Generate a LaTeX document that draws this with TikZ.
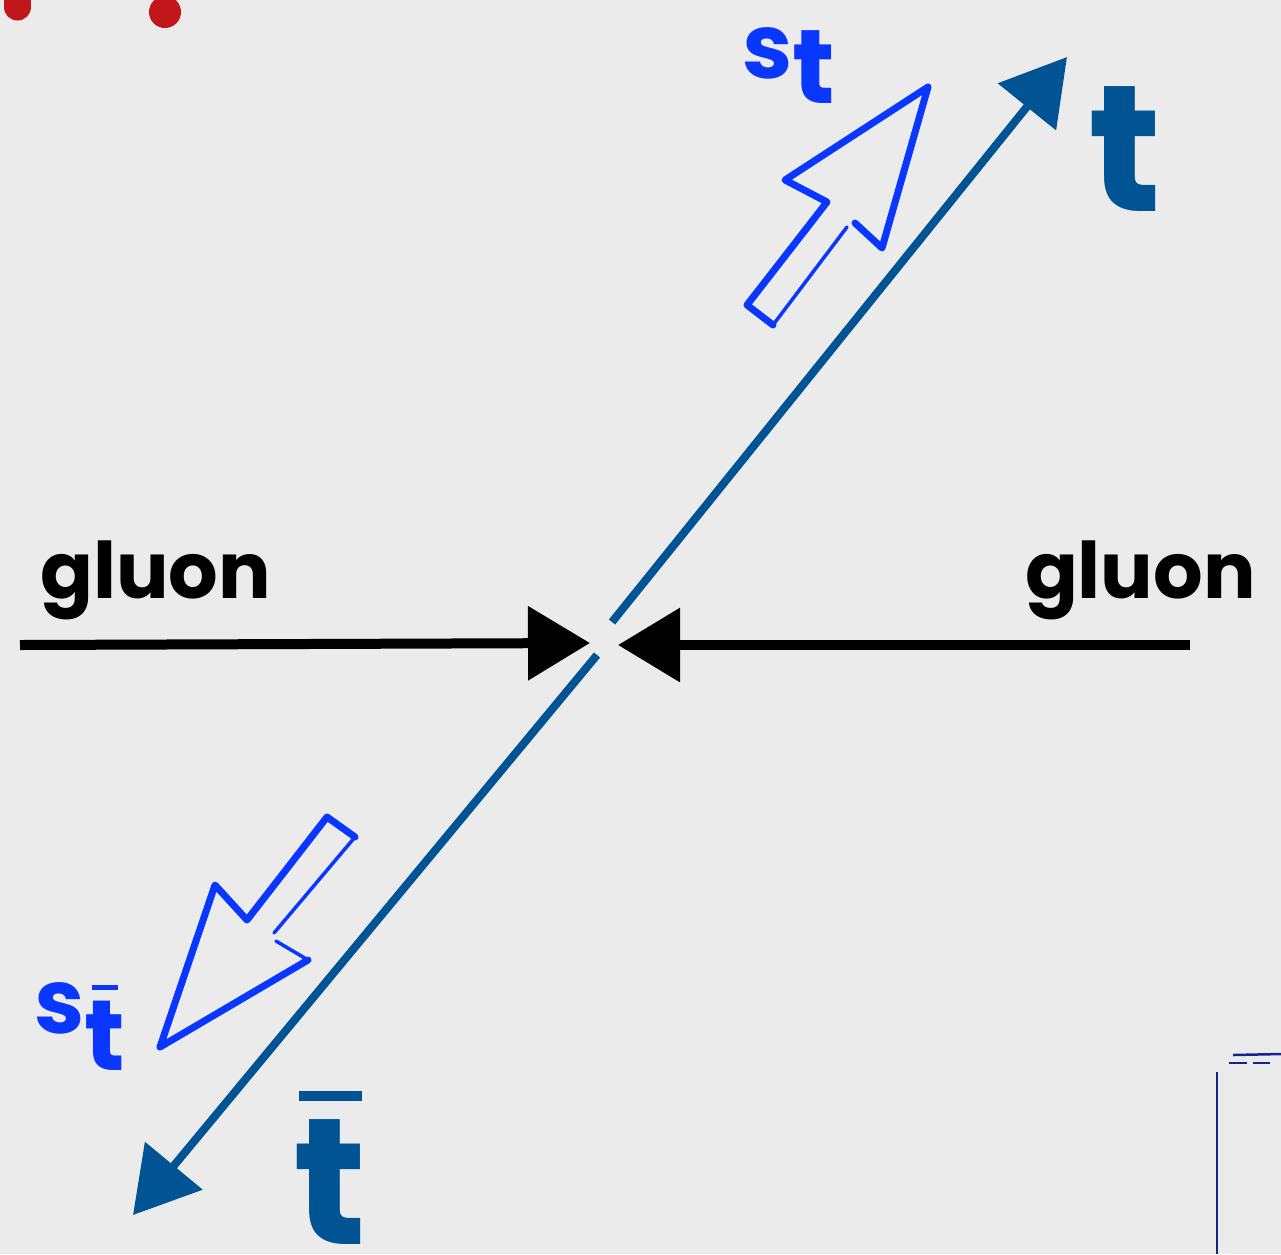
\documentclass[tikz,border=0pt]{standalone}
\usepackage{fontspec}
\setmainfont{Poppins}
\usetikzlibrary{arrows.meta}
\definecolor{paper}{RGB}{235,235,235}
\definecolor{quark}{RGB}{0,84,147}
\definecolor{spin}{RGB}{10,55,255}
\definecolor{dot}{RGB}{193,22,26}
\definecolor{navy}{RGB}{25,35,140}
% letter with a bar on top: text, bar width, bar thickness, gap
\newcommand\barred[4]{\vbox{\offinterlineskip\halign{\hfil##\hfil\cr
  \rule{#2}{#3}\cr\noalign{\kern#4}#1\cr}}}
\tikzset{
  lbl/.style={font=\bfseries\fontsize{78}{78}\selectfont,inner sep=0pt},
  big/.style={font=\bfseries\fontsize{180}{180}\selectfont,inner sep=0pt,text=quark},
  sml/.style={font=\bfseries\fontsize{90}{90}\selectfont,inner sep=0pt,text=spin},
  glu/.style={line width=10pt,draw=black,-{Triangle[length=62pt,width=72pt]}},
  qrk/.style={line width=8pt,draw=quark,-{Triangle[length=64pt,width=73pt]}},
  blk/.style={draw=spin,line width=7pt,line join=round,line cap=round},
  blkthin/.style={draw=spin,line width=3.5pt,line cap=round},
}
\begin{document}
\begin{tikzpicture}[x=1pt,y=-1pt]
  \useasboundingbox[fill=paper] (0,0) rectangle (1281,1254);
  \clip (0,0) rectangle (1281,1254);
  % red dots
  \fill[dot] (17.5,7) circle[radius=13.5];
  \fill[dot] (4,-5) rectangle (31,7);
  \fill[dot] (165,12) circle[radius=16];
  % labels
  \node[lbl,anchor=base west] (gl) at (40,598) {gluon};
  \node[lbl,anchor=base east] (gr) at (1256,598) {gluon};
  \node[big,anchor=base] (t) at (1125,211) {t};
  \node[big,anchor=base] (tb) at (330,1244) {\barred{t}{63pt}{10pt}{18pt}};
  \node[sml,anchor=base west] (st) at (742,78)
    {s\raisebox{-25pt}{\fontsize{105}{105}\selectfont t}};
  \node[sml,anchor=base west] (stb) at (34,1033)
    {s\raisebox{-37pt}{\fontsize{100}{100}\selectfont\barred{t}{26pt}{5pt}{11pt}}};
  % incoming gluons
  \coordinate (gl0) at (20,645);
  \coordinate (gl1) at (590,643);
  \coordinate (gr0) at (1190,645);
  \coordinate (gr1) at (618,645);
  \draw[glu] (gl0) -- (gl1);
  \draw[glu] (gr0) -- (gr1);
  % outgoing pair
  \coordinate (q0) at (612,622);
  \coordinate (q1) at (1067,57);
  \coordinate (a0) at (597,655);
  \coordinate (a1) at (133,1215);
  \draw[qrk] (q0) -- (q1);
  \draw[qrk] (a0) -- (a1);
  % spin arrows
  \draw[blk] (773,325) -- (747,305) -- (827,202) -- (785,180) -- (928,87)
    -- (882,248) -- (855,223);
  \draw[blkthin] (847,227) -- (773,325);
  \draw[blk] (308,960) -- (160,1047) -- (215,885) -- (247,920) -- (327,817)
    -- (355,837);
  \draw[blkthin] (355,837) -- (274,933);
  \draw[blkthin] (276,941) -- (308,960);
  % corner lines
  \draw[navy,line width=2pt] (1217,1072) -- (1217,1254);
  \draw[navy,line width=2.5pt] (1233,1055) -- (1281,1054);
  \draw[navy,line width=1.2pt,dash pattern=on 18pt off 6pt] (1229,1063) -- (1270,1063);
\end{tikzpicture}
\end{document}
